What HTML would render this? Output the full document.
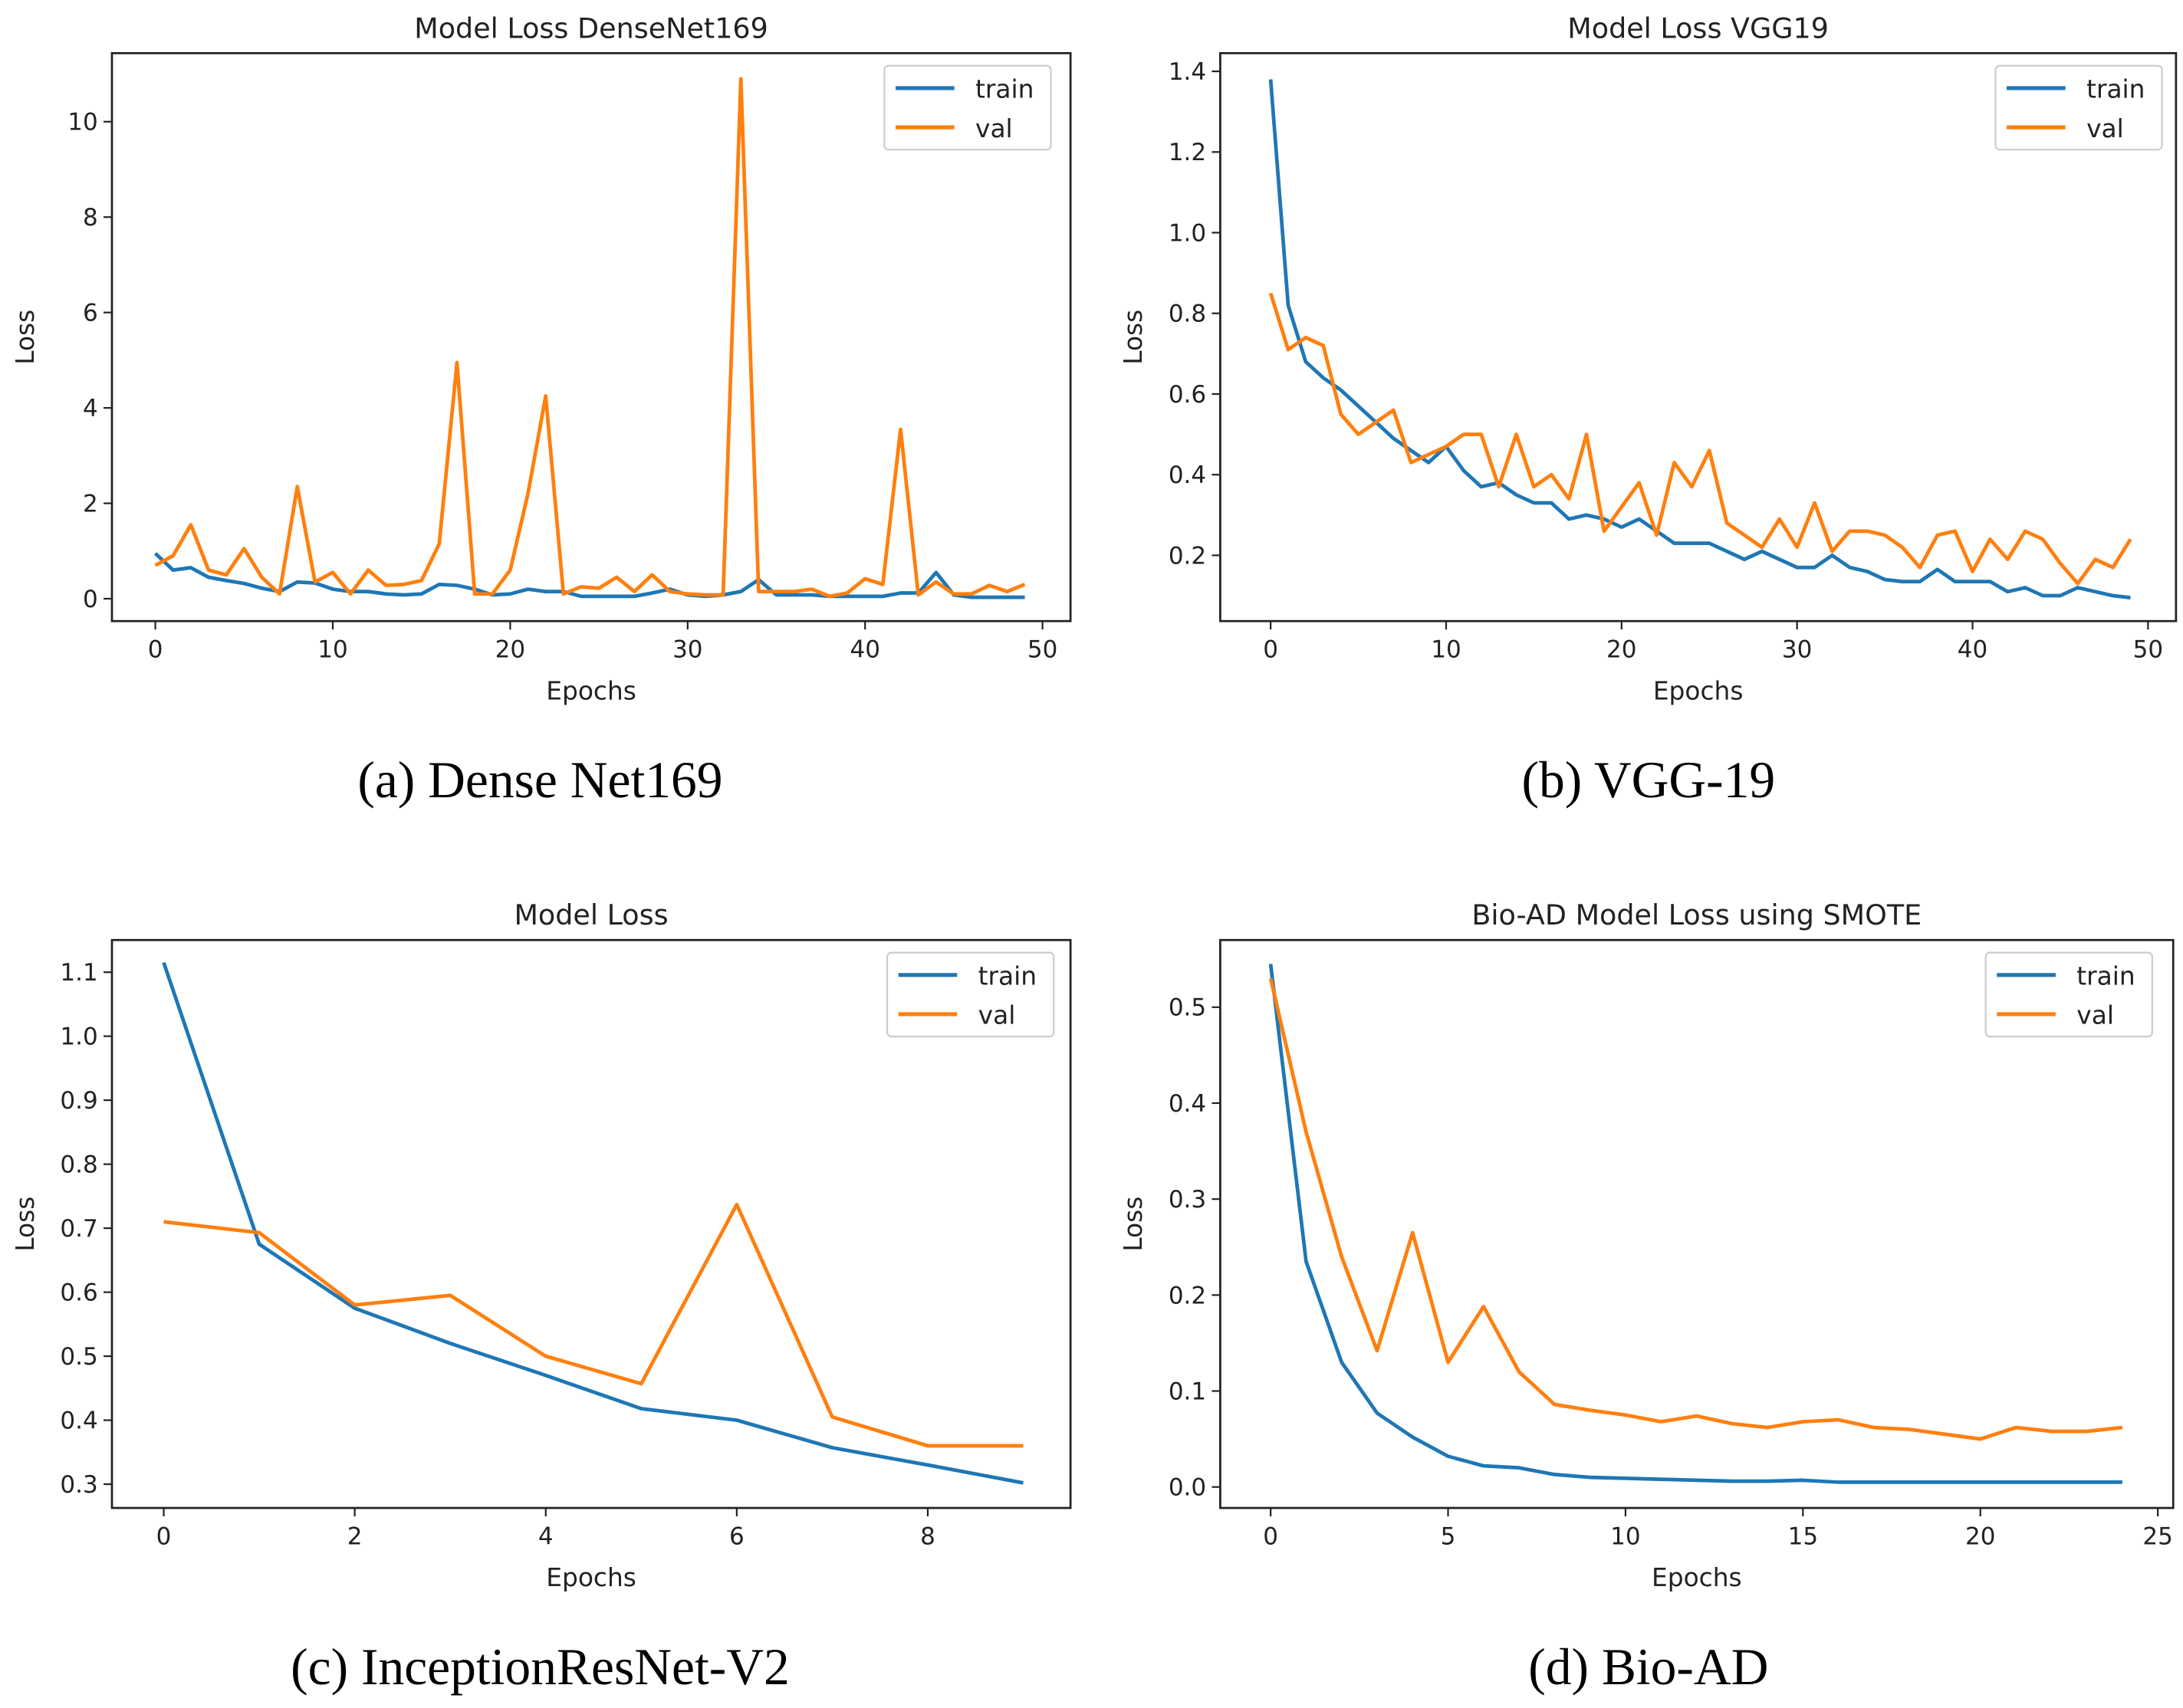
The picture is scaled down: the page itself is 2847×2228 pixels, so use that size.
<!DOCTYPE html>
<html><head><meta charset="utf-8"><style>
html,body{margin:0;padding:0;background:#fff;}
svg{display:block;}
text{font-family:"DejaVu Sans","Liberation Sans",sans-serif;fill:#222;}
.cap{font-family:"Liberation Serif",serif;font-size:37px;fill:#000;}
</style></head><body>
<svg id="fig" width="2847" height="2228" viewBox="0 0 1560 1221" preserveAspectRatio="none" xmlns="http://www.w3.org/2000/svg"></svg>
<script>
const aTrain=[0.95,0.6,0.65,0.45,0.38,0.32,0.22,0.15,0.35,0.33,0.2,0.15,0.15,0.1,0.08,0.1,0.3,0.28,0.2,0.08,0.1,0.2,0.15,0.15,0.05,0.05,0.05,0.05,0.12,0.2,0.08,0.05,0.08,0.15,0.4,0.08,0.08,0.08,0.05,0.05,0.05,0.05,0.12,0.12,0.55,0.08,0.03,0.03,0.03,0.03];
const aVal=[0.7,0.9,1.55,0.6,0.5,1.05,0.45,0.1,2.35,0.35,0.55,0.1,0.6,0.28,0.3,0.38,1.15,4.95,0.1,0.1,0.6,2.2,4.25,0.1,0.25,0.22,0.45,0.15,0.5,0.15,0.1,0.08,0.08,10.9,0.15,0.15,0.15,0.2,0.05,0.12,0.42,0.3,3.55,0.08,0.35,0.1,0.1,0.28,0.15,0.3];
const bTrain=[1.38,0.82,0.68,0.64,0.61,0.57,0.53,0.49,0.46,0.43,0.47,0.41,0.37,0.38,0.35,0.33,0.33,0.29,0.3,0.29,0.27,0.29,0.26,0.23,0.23,0.23,0.21,0.19,0.21,0.19,0.17,0.17,0.2,0.17,0.16,0.14,0.135,0.135,0.165,0.135,0.135,0.135,0.11,0.12,0.1,0.1,0.12,0.11,0.1,0.095];
const bVal=[0.85,0.71,0.74,0.72,0.55,0.5,0.53,0.56,0.43,0.45,0.47,0.5,0.5,0.37,0.5,0.37,0.4,0.34,0.5,0.26,0.32,0.38,0.25,0.43,0.37,0.46,0.28,0.25,0.22,0.29,0.22,0.33,0.21,0.26,0.26,0.25,0.22,0.17,0.25,0.26,0.16,0.24,0.19,0.26,0.24,0.18,0.13,0.19,0.17,0.24];
const cTrain=[1.115,0.675,0.575,0.52,0.47,0.418,0.4,0.357,0.33,0.302];
const cVal=[0.71,0.693,0.58,0.595,0.5,0.457,0.737,0.405,0.36,0.36];
const dTrain=[0.545,0.235,0.13,0.077,0.052,0.032,0.022,0.02,0.013,0.01,0.009,0.008,0.007,0.006,0.006,0.007,0.005,0.005,0.005,0.005,0.005,0.005,0.005,0.005,0.005];
const dVal=[0.53,0.37,0.24,0.142,0.265,0.13,0.188,0.12,0.086,0.08,0.075,0.068,0.074,0.066,0.062,0.068,0.07,0.062,0.06,0.055,0.05,0.062,0.058,0.058,0.062];
const aXTicks=[0,10,20,30,40,50];const aYTicks=[0,2,4,6,8,10];
const bXTicks=[0,10,20,30,40,50];const bYTicks=[0.2,0.4,0.6,0.8,1.0,1.2,1.4];
const cXTicks=[0,2,4,6,8];const cYTicks=[0.3,0.4,0.5,0.6,0.7,0.8,0.9,1.0,1.1];
const dXTicks=[0,5,10,15,20,25];const dYTicks=[0.0,0.1,0.2,0.3,0.4,0.5];

const NS="http://www.w3.org/2000/svg";
const svg=document.getElementById('fig');
function el(tag,attrs,parent){const e=document.createElementNS(NS,tag);for(const k in attrs)e.setAttribute(k,attrs[k]);(parent||svg).appendChild(e);return e;}
function txt(s,attrs,parent){const e=el('text',attrs,parent);e.textContent=s;return e;}

function panel(cfg){
  const g=el('g',{});
  
  
  const L=cfg.box[0],R=cfg.box[1],T=cfg.box[2],B=cfg.box[3];
  const xs=v=>cfg.x0p+(v-cfg.x0)*(cfg.x1p-cfg.x0p)/(cfg.x1-cfg.x0);
  const ys=v=>cfg.y0p+(v-cfg.y0)*(cfg.y1p-cfg.y0p)/(cfg.y1-cfg.y0);
  const t=txt(cfg.title,{x:(L+R)/2,y:T-11,'text-anchor':'middle','font-size':20},g);
  
  
  cfg.xt.forEach(v=>{const x=xs(v);el('line',{x1:x,x2:x,y1:B,y2:B+6,stroke:'#222','stroke-width':1.2},g);
    const l=txt(String(v),{x:x,y:B+26,'text-anchor':'middle','font-size':17},g);
    
    });
  cfg.yt.forEach(v=>{const y=ys(v);el('line',{x1:L-6,x2:L,y1:y,y2:y,stroke:'#222','stroke-width':1.2},g);
    const l=txt(v.toFixed(cfg.dec),{x:L-10,y:y+6,'text-anchor':'end','font-size':17},g);
    
    });
  const xl=txt('Epochs',{x:(L+R)/2,y:B+56,'text-anchor':'middle','font-size':18},g);
  
  
  const cy=(T+B)/2;
  const yl=txt('Loss',{x:0,y:0,'text-anchor':'middle','font-size':18,transform:`translate(${cfg.ylx},${cy}) rotate(-90)`},g);
  
  
  function line(arr,col,name){
    const p=el('polyline',{points:arr.map((v,i)=>xs(i).toFixed(2)+','+ys(v).toFixed(2)).join(' '),fill:'none',stroke:col,'stroke-width':2.6,'stroke-linejoin':'round'},g);
    
    
  }
  line(cfg.train,'#1f77b4','train-line');
  line(cfg.val,'#ff7f0e','val-line');
  const fr=el('rect',{x:L,y:T,width:R-L,height:B-T,fill:'none',stroke:'#222','stroke-width':1.5},g);
  
  
  const lg=el('g',{},g);
  
  
  const lx=cfg.leg[0],ly=cfg.leg[1];
  el('rect',{x:lx,y:ly,width:119,height:60,rx:3,fill:'#fff',stroke:'#ccc','stroke-width':1.2},lg);
  el('line',{x1:lx+8,x2:lx+50,y1:ly+16,y2:ly+16,stroke:'#1f77b4','stroke-width':2.8},lg);
  el('line',{x1:lx+8,x2:lx+50,y1:ly+44,y2:ly+44,stroke:'#ff7f0e','stroke-width':2.8},lg);
  const e1=txt('train',{x:lx+65,y:ly+23,'font-size':18},lg);
  
  
  const e2=txt('val',{x:lx+65,y:ly+51,'font-size':18},lg);
  
  
  const c=txt(cfg.cap,{x:cfg.capx,y:cfg.capy,'text-anchor':'middle',class:'cap','xml:space':'preserve'},g);
  
  
}
panel({id:'densenet169',title:'Model Loss DenseNet169',box:[80,765,38,444],x0:0,x1:50,x0p:111,x1p:745,y0:0,y1:10,y0p:428,y1p:87,xt:aXTicks,yt:aYTicks,dec:0,train:aTrain,val:aVal,leg:[632,47],ylx:24,cap:'(a)  Dense Net169',capx:386,capy:570});
panel({id:'vgg19',title:'Model Loss VGG19',box:[872,1555,38,444],x0:0,x1:50,x0p:908,x1p:1535,y0:0.2,y1:1.4,y0p:397,y1p:51,xt:bXTicks,yt:bYTicks,dec:1,train:bTrain,val:bVal,leg:[1426,47],ylx:816,cap:'(b)  VGG-19',capx:1178,capy:570});
panel({id:'inceptionresnet',title:'Model Loss',box:[80,765,672,1078],x0:0,x1:8,x0p:117,x1p:663,y0:0.3,y1:1.1,y0p:1061,y1p:695,xt:cXTicks,yt:cYTicks,dec:1,train:cTrain,val:cVal,leg:[634,681],ylx:24,cap:'(c)  InceptionResNet-V2',capx:386,capy:1204});
panel({id:'bioad',title:'Bio-AD Model Loss using SMOTE',box:[872,1553,672,1078],x0:0,x1:25,x0p:908,x1p:1542,y0:0,y1:0.5,y0p:1063,y1p:720,xt:dXTicks,yt:dYTicks,dec:1,train:dTrain,val:dVal,leg:[1419,681],ylx:816,cap:'(d)  Bio-AD',capx:1178,capy:1204});
</script>
</body></html>
